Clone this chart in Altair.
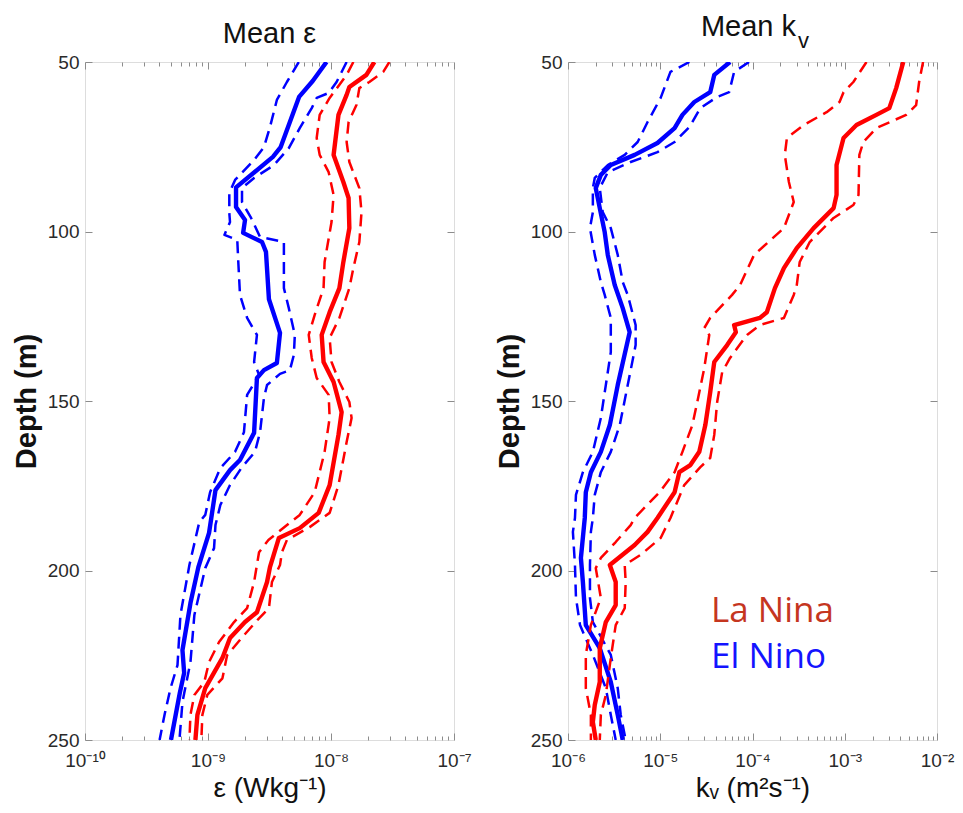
import json
import altair as alt
import pandas as pd

# ---------------- data ----------------
# Left panel: dissipation rate epsilon (W/kg) vs depth (m)
eps_en_mean_depth = [50, 55.6, 60.3, 75.1, 78, 87, 92.8, 96.6, 100.4, 103.1, 106, 120, 129.9, 138.8, 140.9, 143.2,
                     159.4, 167.4, 170.4, 176.3, 188.9, 199, 209.6, 223.5, 230.2, 236.1, 250]
eps_en_mean = [9.2e-9, 7.1e-9, 5.5e-9, 3.9e-9, 3.37e-9, 1.69e-9, 1.69e-9, 2.0e-9, 1.93e-9, 2.75e-9, 2.96e-9, 3.13e-9,
               3.85e-9, 3.63e-9, 2.85e-9, 2.5e-9, 2.37e-9, 1.82e-9, 1.51e-9, 1.15e-9, 1.02e-9, 8.35e-10, 7.2e-10,
               6.2e-10, 6.4e-10, 5.9e-10, 5.0e-10]
eps_en_lo_depth = [50, 55.9, 61.2, 69.2, 75.1, 78.9, 84.8, 88.6, 94.5, 97.2, 101, 102.5, 108.4, 118.7, 125.5, 130.5,
                   138.5, 142.3, 148.2, 159.2, 165, 169.8, 176.9, 183.6, 185.7, 198.4, 213.1, 227.9, 234.7, 242.6, 250]
eps_en_lo = [5.47e-9, 4.38e-9, 3.63e-9, 3.19e-9, 2.85e-9, 2.37e-9, 1.66e-9, 1.49e-9, 1.49e-9, 1.51e-9, 1.36e-9,
             1.73e-9, 1.76e-9, 1.82e-9, 2.08e-9, 2.5e-9, 2.37e-9, 2.6e-9, 2.08e-9, 1.96e-9, 1.66e-9, 1.26e-9,
             1.04e-9, 9.5e-10, 8.5e-10, 7.06e-10, 5.97e-10, 5.65e-10, 4.96e-10, 4.43e-10, 4.04e-10]
eps_en_hi_depth = [50, 55.9, 59.1, 60.6, 63.6, 69.5, 75.4, 80.4, 84.2, 87.2, 91.3, 96, 101.6, 103.1, 106.9, 116.7,
                   122.6, 130.5, 136.4, 140.9, 142, 145.3, 149.1, 159.2, 165, 169.5, 174.8, 180.7, 186.6, 193.4,
                   199.3, 213.1, 227, 238.8, 250]
eps_en_hi = [1.34e-8, 1.11e-8, 9.6e-9, 7.65e-9, 6.97e-9, 5.57e-9, 4.54e-9, 3.44e-9, 2.37e-9, 1.89e-9, 1.89e-9,
             2.24e-9, 2.65e-9, 4.14e-9, 4.14e-9, 4.14e-9, 4.54e-9, 5.08e-9, 4.99e-9, 4.63e-9, 3.85e-9, 3.02e-9,
             2.85e-9, 2.65e-9, 2.41e-9, 1.89e-9, 1.51e-9, 1.26e-9, 1.15e-9, 1.12e-9, 9.5e-10, 7.75e-10, 7.2e-10,
             6.2e-10, 5.86e-10]
eps_ln_mean_depth = [50, 53.8, 57.4, 59.7, 65.6, 77.4, 85.4, 90.1, 99, 109, 116.7, 123.8, 130.5, 138.5, 144.4, 153.3,
                     160, 174.8, 183, 187.5, 190.4, 199, 203.4, 212.3, 215.2, 219.9, 225.8, 234.7, 242.6, 250]
eps_ln_mean = [2.25e-8, 1.94e-8, 1.41e-8, 1.34e-8, 1.15e-8, 1.05e-8, 1.26e-8, 1.39e-8, 1.41e-8, 1.26e-8, 1.17e-8,
               9.75e-9, 8.4e-9, 8.7e-9, 1.05e-8, 1.22e-8, 1.15e-8, 9.75e-9, 7.94e-9, 5.57e-9, 3.77e-9, 3.19e-9,
               3.02e-9, 2.5e-9, 2.0e-9, 1.51e-9, 1.31e-9, 9.5e-10, 8.2e-10, 7.9e-10]
eps_ln_lo_depth = [50, 53.8, 60.6, 65.6, 72.4, 77.4, 82.5, 89.2, 97.2, 109, 116.7, 124.6, 130.5, 137.3, 143.2, 148.2,
                   155, 165, 176.9, 183.6, 191, 194.6, 203.4, 211.1, 215.2, 221.1, 227, 232.9, 236.7, 242.6, 250]
eps_ln_lo = [1.52e-8, 1.34e-8, 9.75e-9, 8.09e-9, 7.65e-9, 8.09e-9, 9.57e-9, 1.05e-8, 1.01e-8, 8.87e-9, 8.7e-9,
             7.37e-9, 6.59e-9, 6.97e-9, 7.65e-9, 9.57e-9, 9.75e-9, 8.87e-9, 7.37e-9, 5.57e-9, 3.1e-9, 2.6e-9,
             2.37e-9, 2.08e-9, 1.63e-9, 1.23e-9, 1.02e-9, 9.33e-10, 7.75e-10, 7.2e-10, 7.06e-10]
eps_ln_hi_depth = [50, 52.9, 55.9, 57.7, 62.7, 67.7, 73.6, 79.5, 87.2, 94.3, 103.1, 110.8, 116.7, 125.5, 131.4, 138.5,
                   144.4, 150.3, 155, 162.1, 174.8, 183, 187.2, 191, 194.6, 198.4, 203.4, 211.1, 214.1, 219.1, 225,
                   231.8, 236.7, 242.6, 250]
eps_ln_hi = [2.98e-8, 2.66e-8, 2.05e-8, 1.7e-8, 1.61e-8, 1.39e-8, 1.34e-8, 1.41e-8, 1.7e-8, 1.77e-8, 1.7e-8,
             1.52e-8, 1.41e-8, 1.17e-8, 9.75e-9, 1.01e-8, 1.17e-8, 1.41e-8, 1.47e-8, 1.34e-8, 1.15e-8, 9.75e-9,
             6.71e-9, 4.38e-9, 3.99e-9, 3.85e-9, 3.31e-9, 3.13e-9, 2.6e-9, 1.96e-9, 1.43e-9, 1.31e-9, 9.87e-10,
             9.0e-10, 8.83e-10]

# Right panel: diffusivity k_v (m^2/s) vs depth (m)
kv_en_mean_depth = [50, 53.8, 58.9, 61.8, 65.6, 69.5, 73.9, 77.4, 80.4, 83.3, 87.2, 93.1, 100.2, 106.9, 115.8, 122.6,
                    129.7, 145.3, 157.1, 165, 171, 176.9, 184.5, 196.3, 203.4, 216.1, 222.9, 232.9, 242.6, 250]
kv_en_mean = [5.71e-5, 3.85e-5, 3.48e-5, 2.34e-5, 1.74e-5, 1.43e-5, 9.33e-6, 5.28e-6, 2.91e-6, 2.27e-6, 2.0e-6,
              2.21e-6, 2.5e-6, 2.7e-6, 3.21e-6, 3.92e-6, 4.66e-6, 3.46e-6, 2.84e-6, 2.27e-6, 1.77e-6, 1.56e-6,
              1.52e-6, 1.38e-6, 1.45e-6, 1.56e-6, 2.21e-6, 2.91e-6, 3.46e-6, 3.92e-6]
kv_en_lo_depth = [50, 52.9, 60.6, 67.7, 73.6, 77.4, 80.4, 84.2, 87.2, 94.3, 99, 106.9, 114.9, 118.7, 125.5, 135.6,
                  145.3, 155, 165, 171, 177.7, 184.5, 188.6, 198.4, 208.1, 216.1, 224.9, 234.7, 242.6, 250]
kv_en_lo = [2.07e-5, 1.29e-5, 1.01e-5, 7.29e-6, 5.69e-6, 4.12e-6, 2.7e-6, 1.95e-6, 1.86e-6, 1.86e-6, 1.73e-6,
            1.95e-6, 2.27e-6, 2.5e-6, 2.91e-6, 2.91e-6, 2.57e-6, 2.27e-6, 1.86e-6, 1.45e-6, 1.22e-6, 1.19e-6,
            1.13e-6, 1.19e-6, 1.22e-6, 1.35e-6, 1.86e-6, 2.57e-6, 2.91e-6, 3.29e-6]
kv_en_hi_depth = [50, 52.9, 58.9, 60.3, 63.6, 69.2, 73.6, 76.6, 79.5, 82.5, 87.2, 94.3, 99, 106.9, 114.9, 118.7,
                  127.6, 133.5, 145.3, 157.1, 165, 171, 177.7, 184.5, 188.6, 198.4, 208.1, 215.2, 224.9, 234.7,
                  242.6, 250]
kv_en_hi = [9.17e-5, 6.32e-5, 5.58e-5, 4.14e-5, 2.72e-5, 2.07e-5, 1.43e-5, 9.33e-6, 4.78e-6, 2.7e-6, 2.21e-6,
            2.38e-6, 2.91e-6, 3.46e-6, 3.92e-6, 4.44e-6, 5.41e-6, 5.41e-6, 4.44e-6, 3.64e-6, 2.91e-6, 2.27e-6,
            1.95e-6, 1.86e-6, 1.77e-6, 1.73e-6, 1.73e-6, 1.86e-6, 2.91e-6, 3.46e-6, 3.73e-6, 4.22e-6]
kv_ln_mean_depth = [50, 57.7, 63.6, 65.6, 68.6, 72.4, 80.4, 89.2, 93.1, 99, 104.9, 110.8, 116.7, 123.8, 125.5, 127.6,
                    129.7, 133.5, 138.5, 147.4, 157.1, 165, 168.9, 171, 176.9, 184.5, 188.6, 192.5, 198.4, 203.4,
                    210.2, 215.2, 222.9, 232.9, 239.7, 244.7, 250]
kv_ln_mean = [4.31e-3, 3.61e-3, 3.04e-3, 2.2e-3, 1.34e-3, 9.7e-4, 8.15e-4, 8.15e-4, 7.57e-4, 4.6e-4, 3.02e-4,
              2.19e-4, 1.75e-4, 1.43e-4, 1.2e-4, 6.32e-5, 6.6e-5, 5.31e-5, 3.85e-5, 3.48e-5, 3.08e-5, 2.65e-5,
              2.12e-5, 1.61e-5, 1.43e-5, 9.33e-6, 7.29e-6, 5.28e-6, 2.84e-6, 3.29e-6, 3.29e-6, 2.57e-6, 2.21e-6,
              2.21e-6, 1.95e-6, 1.86e-6, 2.0e-6]
kv_ln_lo_depth = [50, 55.9, 58.9, 61.8, 64.8, 68.6, 72.4, 77.4, 85.4, 91.3, 99, 106.9, 115.8, 118.7, 125.5, 128.5,
                  130.5, 140.3, 150.3, 157.1, 165, 171, 176.9, 184.5, 186.6, 191.6, 196.3, 199.3, 208.1, 216.1,
                  224.9, 234.7, 242.6, 250]
kv_ln_lo = [1.72e-3, 1.24e-3, 9.7e-4, 8.78e-4, 6.36e-4, 3.59e-4, 2.36e-4, 2.24e-4, 2.48e-4, 2.8e-4, 2.19e-4,
            1.04e-4, 7.33e-5, 6.01e-5, 3.48e-5, 3.0e-5, 3.4e-5, 3.0e-5, 2.52e-5, 2.23e-5, 1.74e-5, 1.43e-5,
            9.82e-6, 5.28e-6, 4.78e-6, 3.29e-6, 2.27e-6, 2.0e-6, 2.27e-6, 1.77e-6, 1.56e-6, 1.56e-6, 1.77e-6,
            1.77e-6]
kv_ln_hi_depth = [50, 55.9, 62.7, 65.6, 69.5, 73.6, 77.4, 89.2, 92.2, 96, 103.1, 109, 115.8, 118.7, 125.5, 127.6,
                  130.5, 137.3, 141.5, 150.3, 160, 166.8, 169.5, 174.8, 184.5, 190.4, 195.4, 198.4, 203.4, 211.1,
                  216.1, 225.8, 236.7, 242.6, 250]
kv_ln_hi = [7.06e-3, 6.4e-3, 5.94e-3, 4.63e-3, 2.2e-3, 1.59e-3, 1.44e-3, 1.41e-3, 1.24e-3, 7.57e-4, 4.17e-4,
            3.25e-4, 3.02e-4, 2.8e-4, 2.19e-4, 1.2e-4, 8.72e-5, 5.71e-5, 4.69e-5, 4.14e-5, 3.85e-5, 3.48e-5,
            2.72e-5, 1.82e-5, 1.29e-5, 1.01e-5, 6.12e-6, 4.12e-6, 4.22e-6, 4.12e-6, 3.29e-6, 2.91e-6, 2.57e-6,
            2.27e-6, 2.21e-6]

# ticks and labels
depth_ticks = [50, 100, 150, 200, 250]
depth_inner_ticks = [100, 150, 200]
eps_major = [1e-10, 1e-9, 1e-8, 1e-7]
eps_tick_labels = ["10⁻¹⁰", "10⁻⁹", "10⁻⁸", "10⁻⁷"]
kv_major = [1e-6, 1e-5, 1e-4, 1e-3, 1e-2]
kv_tick_labels = ["10⁻⁶", "10⁻⁵", "10⁻⁴", "10⁻³", "10⁻²"]
minor_mult = [2, 3, 4, 5, 6, 7, 8, 9]
eps_minor = [m * d for d in eps_major[:-1] for m in minor_mult]
kv_minor = [m * d for d in kv_major[:-1] for m in minor_mult]

legend_labels = ["La Nina", "El Nino"]
legend_colors = ["#c5361f", "#1414ff"]

# ---------------- styling ----------------
RED = "#ff0000"
BLUE = "#0000ff"
FRAME = "#8c8c8c"
FONT = "Liberation Sans"
PW, PH = 369, 678


def label_expr(labels, first_exp):
    return f"{json.dumps(labels)}[round(log(datum.value)/LN10) - ({first_exp})]"


def frame(depths, values):
    return pd.DataFrame({"depth": depths, "value": values, "i": list(range(len(depths)))})


def text_layer(text, x, y, size, align="center", color="#111111", font=FONT):
    return alt.Chart(alt.Data(values=[{}])).mark_text(
        text=text, align=align, baseline="alphabetic", font=font, fontSize=size, color=color,
    ).encode(x=alt.value(x), y=alt.value(y))


def make_axes(major, minor, tick_labels, first_exp, x_title, ytitle_pad):
    common = dict(domain=False, grid=False, tickColor=FRAME, tickWidth=1)
    return {
        "bottom_major": alt.Axis(orient="bottom", values=major, offset=-7, tickSize=7,
                                 labelExpr=label_expr(tick_labels, first_exp), labelFont=FONT,
                                 labelFontSize=19, labelColor="#2a2a2a", labelPadding=11,
                                 labelFlush=False, labelOverlap=False, title=x_title, titleFont=FONT,
                                 titleFontSize=28, titleFontWeight="normal", titleColor="#111111",
                                 titlePadding=4, **common),
        "bottom_minor": alt.Axis(orient="bottom", values=minor, offset=-4, tickSize=4, labels=False,
                                 title=None, **common),
        "top_major": alt.Axis(orient="top", values=major, offset=-7, tickSize=7, labels=False,
                              title=None, **common),
        "top_minor": alt.Axis(orient="top", values=minor, offset=-4, tickSize=4, labels=False,
                              title=None, **common),
        "left": alt.Axis(orient="left", values=depth_ticks, offset=-7, tickSize=7, labelFont=FONT,
                         labelFontSize=19, labelColor="#2a2a2a", labelPadding=6, title="Depth (m)",
                         titleFont=FONT, titleFontSize=29, titleFontWeight="bold", titleColor="#111111",
                         titlePadding=ytitle_pad, **common),
        "right": alt.Axis(orient="right", values=depth_inner_ticks, offset=-7, tickSize=7, labels=False,
                          title=None, **common),
    }


def panel(lines, domain, major, minor, tick_labels, first_exp, x_title, ytitle_pad, extra=()):
    axes = make_axes(major, minor, tick_labels, first_exp, x_title, ytitle_pad)
    xs = alt.Scale(type="log", domain=domain, nice=False)
    ys = alt.Scale(domain=[50, 250], reverse=True, nice=False, zero=False)
    layers = []
    for depths, vals, color, dashed, xa, ya in lines:
        mark_kw = dict(color=color, clip=True, strokeCap="butt", strokeJoin="round")
        if dashed:
            mark_kw.update(strokeWidth=2.5, strokeDash=[12, 7])
        else:
            mark_kw.update(strokeWidth=4.4)
        layers.append(
            alt.Chart(frame(depths, vals)).mark_line(**mark_kw).encode(
                x=alt.X("value:Q", scale=xs, axis=axes[xa] if xa else None),
                y=alt.Y("depth:Q", scale=ys, axis=axes[ya] if ya else None),
                order=alt.Order("i:Q"),
            )
        )
    layers.extend(extra)
    return alt.layer(*layers).resolve_axis(x="independent", y="independent").properties(width=PW, height=PH)


left = panel(
    [
        (eps_en_lo_depth, eps_en_lo, BLUE, True, "bottom_minor", "right"),
        (eps_en_hi_depth, eps_en_hi, BLUE, True, "top_major", None),
        (eps_en_mean_depth, eps_en_mean, BLUE, False, "top_minor", None),
        (eps_ln_lo_depth, eps_ln_lo, RED, True, None, None),
        (eps_ln_hi_depth, eps_ln_hi, RED, True, None, None),
        (eps_ln_mean_depth, eps_ln_mean, RED, False, "bottom_major", "left"),
    ],
    [1e-10, 1e-7], eps_major, eps_minor, eps_tick_labels, -10, "ε (Wkg⁻¹)", 6,
    extra=[text_layer("Mean ε", PW / 2, -19, 29)],
)

right = panel(
    [
        (kv_en_lo_depth, kv_en_lo, BLUE, True, "bottom_minor", "right"),
        (kv_en_hi_depth, kv_en_hi, BLUE, True, "top_major", None),
        (kv_en_mean_depth, kv_en_mean, BLUE, False, "top_minor", None),
        (kv_ln_lo_depth, kv_ln_lo, RED, True, None, None),
        (kv_ln_hi_depth, kv_ln_hi, RED, True, None, None),
        (kv_ln_mean_depth, kv_ln_mean, RED, False, "bottom_major", "left"),
    ],
    [1e-6, 1e-2], kv_major, kv_minor, kv_tick_labels, -6, "kᵥ (m²s⁻¹)", 6,
    extra=[
        text_layer("Mean k", 228, -26, 29, align="right"),
        text_layer("v", 230, -14, 22, align="left"),
        text_layer(legend_labels[0], 143, 560, 35, align="left", color=legend_colors[0],
                   font="Comic Sans MS, Open Sans"),
        text_layer(legend_labels[1], 143, 606, 35, align="left", color=legend_colors[1],
                   font="Comic Sans MS, Open Sans"),
    ],
)

chart = (
    alt.hconcat(left, right, spacing=114, bounds="flush")
    .properties(padding={"left": 3, "top": 4, "right": 0, "bottom": 0})
    .configure_view(stroke=FRAME, strokeWidth=1.2)
    .configure(background="white")
)

chart.save("out.html", embed_options={"renderer": "svg", "actions": False})
